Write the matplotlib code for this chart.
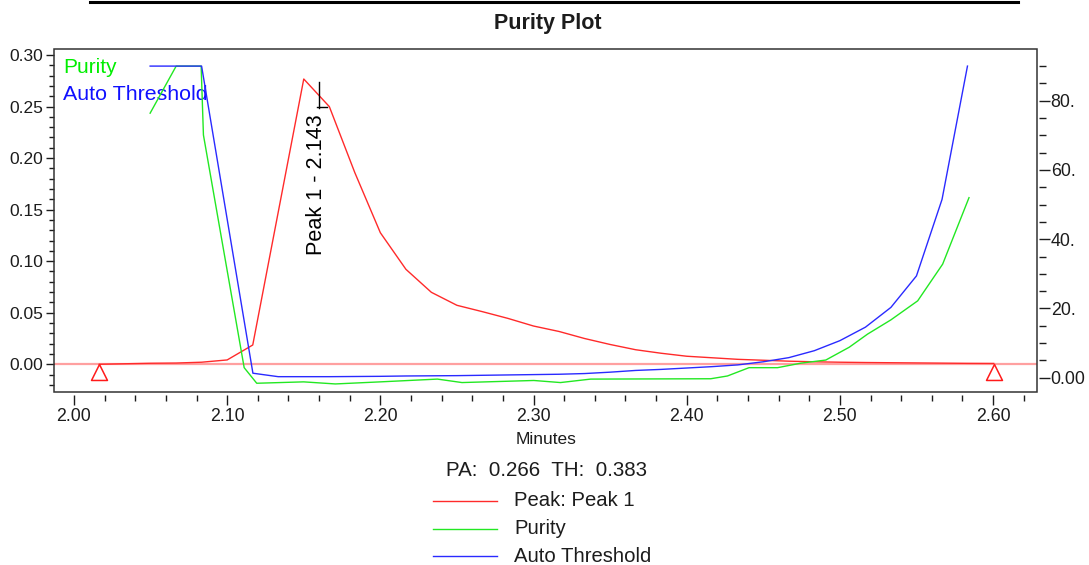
import matplotlib
matplotlib.use('Agg')
import matplotlib.pyplot as plt
from matplotlib.lines import Line2D
from matplotlib.patches import Rectangle
from matplotlib.path import Path
from matplotlib.ticker import MultipleLocator, FixedLocator, FixedFormatter

plt.rcParams['font.family'] = ['Liberation Sans', 'DejaVu Sans']

# ---------------- data ----------------
peak_time = [2.0165, 2.0333, 2.0500, 2.0667, 2.0833, 2.1000, 2.1167, 2.1500, 2.1667,
             2.1833, 2.2000, 2.2167, 2.2333, 2.2500, 2.2667, 2.2833, 2.3000, 2.3167,
             2.3333, 2.3500, 2.3667, 2.3833, 2.4000, 2.4167, 2.4333, 2.4500, 2.4667,
             2.4833, 2.5000, 2.5167, 2.5333, 2.5500, 2.5667, 2.5833, 2.6004]
peak_au = [0.0000, 0.0005, 0.0010, 0.0012, 0.0020, 0.0042, 0.0187, 0.2767, 0.2499,
           0.1860, 0.1276, 0.0921, 0.0698, 0.0572, 0.0510, 0.0445, 0.0371, 0.0318,
           0.0250, 0.0192, 0.0141, 0.0107, 0.0078, 0.0063, 0.0048, 0.0039, 0.0030,
           0.0024, 0.0020, 0.0017, 0.0015, 0.0013, 0.0011, 0.0009, 0.0008]

purity_time = [2.0497, 2.0667, 2.0830, 2.0845, 2.1111, 2.1193, 2.1499, 2.1706, 2.2000,
               2.2373, 2.2533, 2.3002, 2.3176, 2.3373, 2.4157, 2.4266, 2.4407, 2.4593,
               2.4745, 2.4908, 2.5061, 2.5181, 2.5333, 2.5508, 2.5671, 2.5843]
purity_deg = [76.4, 90.0, 90.0, 70.1, 2.9, -1.6, -1.2, -1.8, -1.2,
              -0.4, -1.4, -0.8, -1.4, -0.4, -0.3, 0.5, 2.9, 2.9,
              4.2, 5.1, 8.8, 12.6, 16.7, 22.2, 32.8, 52.0]

threshold_time = [2.0497, 2.0833, 2.1168, 2.1333, 2.1500, 2.1667, 2.1833, 2.2000, 2.2167,
                  2.2333, 2.2500, 2.2667, 2.2833, 2.3000, 2.3167, 2.3333, 2.3500, 2.3667,
                  2.3833, 2.4000, 2.4167, 2.4333, 2.4500, 2.4667, 2.4833, 2.5000, 2.5167,
                  2.5333, 2.5500, 2.5667, 2.5833]
threshold_deg = [90.0, 90.0, 1.3, 0.3, 0.3, 0.3, 0.35, 0.4, 0.5,
                 0.55, 0.6, 0.7, 0.8, 0.9, 1.0, 1.2, 1.6, 2.1,
                 2.4, 2.8, 3.2, 3.7, 4.6, 5.8, 7.8, 10.7, 14.6,
                 20.3, 29.4, 51.5, 90.0]

peak_start = 2.0165
peak_end = 2.6004
baseline_au = 0.0
peak_label = "Peak 1 - 2.143"
pa_value = 0.266
th_value = 0.383

x_major = [2.00, 2.10, 2.20, 2.30, 2.40, 2.50, 2.60]
x_labels = ["2.00", "2.10", "2.20", "2.30", "2.40", "2.50", "2.60"]
left_major = [0.00, 0.05, 0.10, 0.15, 0.20, 0.25, 0.30]
left_labels = ["0.00", "0.05", "0.10", "0.15", "0.20", "0.25", "0.30"]
right_major = [0, 20, 40, 60, 80]
right_labels = ["0.00", "20.", "40.", "60.", "80."]

# ---------------- figure ----------------
W, H = 1089, 565
fig = plt.figure(figsize=(W / 100, H / 100), dpi=100)
L, R, T, B = 54.3, 1036.7, 49.3, 391.7
ax = fig.add_axes([L / W, 1 - B / H, (R - L) / W, (B - T) / H])
ax2 = ax.twinx()

ax.set_xlim(1.98714, 2.6285)
ax.set_ylim(-0.0266, 0.3055)
ax2.set_ylim(-4.04, 94.85)

RED = '#ff2a2a'
GREEN = '#22e822'
BLUE = '#2a2aff'
TXT = '#1c1c1c'

# baseline and peak
ax.axhline(baseline_au, color='#ffa0a0', lw=1.6, zorder=1)
ax.plot(peak_time, peak_au, color=RED, lw=1.0, zorder=2)
tri = Path([(0, 0), (-0.5, -1), (0.5, -1), (0, 0)],
           [Path.MOVETO, Path.LINETO, Path.LINETO, Path.CLOSEPOLY])
ax.plot([peak_start, peak_end], [baseline_au, baseline_au], ls='none', marker=tri,
        ms=23, mfc='none', mec='#ff1a1a', mew=1.1, clip_on=False, zorder=3)

# purity & threshold
ax2.plot(purity_time, purity_deg, color=GREEN, lw=1.0)
ax2.plot(threshold_time, threshold_deg, color=BLUE, lw=1.0)

# peak label
ax.text(2.1580, 0.106, peak_label, rotation=90, ha='center', va='bottom',
        fontsize=15.6, color='black')
ax.plot([2.1599, 2.1599], [0.2735, 0.2486], color='black', lw=1.0)
ax.plot([2.1584, 2.1649], [0.2496, 0.2496], color='black', lw=1.0)

# in-axes legend
ax.text(0.0092, 0.9480, "Purity", transform=ax.transAxes, color='#00ee00',
        fontsize=15, ha='left', va='center')
ax.text(0.0092, 0.8680, "Auto Threshold", transform=ax.transAxes, color='#1010ff',
        fontsize=15.4, ha='left', va='center')

# ticks
ax.xaxis.set_major_locator(FixedLocator(x_major))
ax.xaxis.set_major_formatter(FixedFormatter(x_labels))
ax.xaxis.set_minor_locator(MultipleLocator(0.02))
ax.yaxis.set_major_locator(FixedLocator(left_major))
ax.yaxis.set_major_formatter(FixedFormatter(left_labels))
ax.yaxis.set_minor_locator(MultipleLocator(0.01))
ax2.yaxis.set_major_locator(FixedLocator(right_major))
ax2.yaxis.set_major_formatter(FixedFormatter(right_labels))
ax2.yaxis.set_minor_locator(MultipleLocator(5))

ax.tick_params(axis='x', which='major', direction='out', length=7.5, width=1.0,
               pad=2.2, labelsize=12.8, colors=TXT)
ax.tick_params(axis='x', which='minor', direction='out', length=4.3, width=1.0, colors=TXT)
ax.tick_params(axis='y', which='major', direction='out', length=5.8, width=1.0,
               pad=2.4, labelsize=12.5, colors=TXT)
ax.tick_params(axis='y', which='minor', direction='out', length=3.6, width=1.0, colors=TXT)
ax2.tick_params(axis='y', which='major', direction='out', length=7.8, width=1.0,
                pad=0.3, labelsize=12.8, colors=TXT)
ax2.tick_params(axis='y', which='minor', direction='out', length=5.0, width=1.0, colors=TXT)

for a in (ax, ax2):
    for s in a.spines.values():
        s.set_visible(False)
ax.spines['bottom'].set_position(('outward', 2.2))
ax2.spines['right'].set_position(('outward', 2.0))

ax.add_patch(Rectangle((0, 0), 1, 1, transform=ax.transAxes, fill=False,
                       lw=1.1, edgecolor='#333333', clip_on=False, zorder=10))

# title and top rule
fig.add_artist(Line2D([90 / W, 1018 / W], [1 - 1.5 / H, 1 - 1.5 / H], color='black', lw=2.2))
fig.text(548 / W, 1 - 24 / H, "Purity Plot", ha='center', va='center',
         fontsize=15.5, fontweight='bold', color=TXT)

# bottom labels
fig.text(546 / W, 1 - 440 / H, "Minutes", ha='center', va='center', fontsize=12.5, color=TXT)
fig.text(546 / W, 1 - 471 / H, f"PA:  {pa_value:.3f}  TH:  {th_value:.3f}",
         ha='center', va='center', fontsize=14.8, color=TXT)

legend_items = [("Peak: Peak 1", RED), ("Purity", GREEN), ("Auto Threshold", BLUE)]
legend_y = [501, 528.7, 556]
for (lab, col), yy in zip(legend_items, legend_y):
    fig.add_artist(Line2D([432.7 / W, 497.3 / W], [1 - yy / H, 1 - yy / H], color=col, lw=1.0))
    fig.text(514 / W, 1 - yy / H, lab, ha='left', va='center', fontsize=14.6, color=TXT)

fig.savefig('out.png', dpi=100)
